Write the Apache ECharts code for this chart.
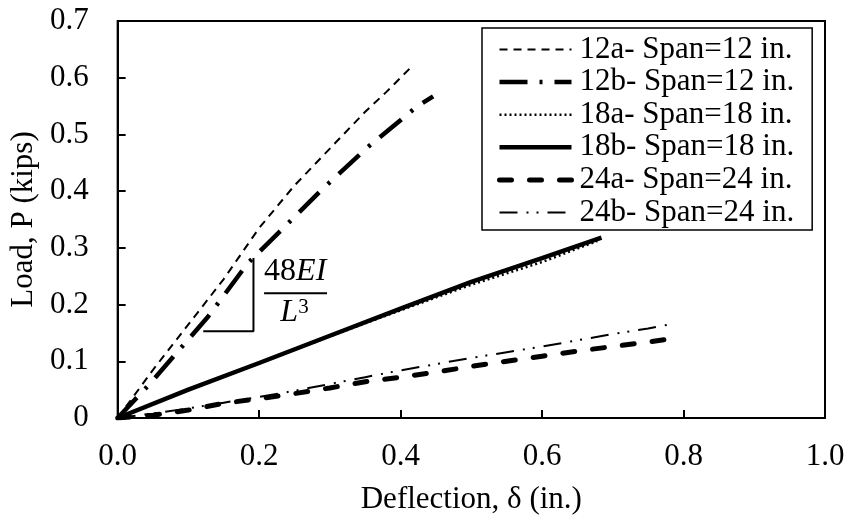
<!DOCTYPE html>
<html>
<head>
<meta charset="utf-8">
<script src="https://cdn.jsdelivr.net/npm/echarts@6/dist/echarts.min.js"></script>
<style>
  html, body { margin: 0; padding: 0; background: #fff; }
  #chart { width: 853px; height: 520px; }
</style>
</head>
<body>
<div id="chart"></div>
<script>
// Load–deflection readings per specimen: deflection (in.) and load (kips)
const defl12a = [0, 0.05, 0.10, 0.15, 0.20, 0.25, 0.30, 0.35, 0.38, 0.416];
const load12a = [0, 0.085, 0.165, 0.245, 0.335, 0.41, 0.475, 0.54, 0.575, 0.62];

const defl12b = [0, 0.046, 0.128, 0.184, 0.227, 0.288, 0.354, 0.424, 0.446];
const load12b = [0, 0.061, 0.179, 0.273, 0.326, 0.402, 0.478, 0.55, 0.567];

const defl18a = [0, 0.1, 0.2, 0.3, 0.4, 0.5, 0.6, 0.678];
const load18a = [0, 0.05, 0.097, 0.144, 0.19, 0.235, 0.275, 0.312];

const defl18b = [0, 0.1, 0.2, 0.3, 0.4, 0.5, 0.6, 0.684];
const load18b = [0, 0.05, 0.097, 0.145, 0.193, 0.24, 0.282, 0.318];

const defl24a = [0, 0.05, 0.10, 0.15, 0.20, 0.25, 0.30, 0.35, 0.40, 0.45, 0.50, 0.55, 0.60, 0.65, 0.70, 0.75, 0.784];
const load24a = [0, 0.005, 0.014, 0.026, 0.034, 0.043, 0.053, 0.064, 0.072, 0.081, 0.091, 0.10, 0.109, 0.118, 0.126, 0.134, 0.14];

const defl24b = [0, 0.05, 0.10, 0.15, 0.20, 0.25, 0.30, 0.35, 0.40, 0.45, 0.50, 0.55, 0.60, 0.65, 0.70, 0.75, 0.785];
const load24b = [0, 0.008, 0.017, 0.027, 0.037, 0.048, 0.06, 0.072, 0.084, 0.095, 0.106, 0.116, 0.126, 0.137, 0.148, 0.158, 0.166];

const seriesNames = [
  '12a- Span=12 in.', '12b- Span=12 in.',
  '18a- Span=18 in.', '18b- Span=18 in.',
  '24a- Span=24 in.', '24b- Span=24 in.'
];

// Initial-stiffness triangle (48EI/L^3) in data units
const slopeRunX = [0.121, 0.192, 0.192];
const slopeRunY = [0.153, 0.153, 0.282];

const xTicks = [0, 0.2, 0.4, 0.6, 0.8, 1.0];
const yTicks = [0, 0.1, 0.2, 0.3, 0.4, 0.5, 0.6, 0.7];

const FONT = 'Liberation Serif';

// Stroke style of each specimen's curve
const strokes = [
  { width: 2,   type: [8, 6],               cap: 'butt' },
  { width: 4.5, type: [28, 12, 3, 12],      cap: 'butt' },
  { width: 2.5, type: [2, 3],               cap: 'butt' },
  { width: 4.5, type: 'solid',              cap: 'butt' },
  { width: 5,   type: [12, 18],             cap: 'round' },
  { width: 2,   type: [18, 9, 2, 8, 2, 9],  cap: 'butt' }
];

function pairs(xs, ys) { return xs.map((x, i) => [x, ys[i]]); }

function curve(idx, xs, ys) {
  const s = strokes[idx];
  return {
    name: seriesNames[idx],
    type: 'line',
    data: pairs(xs, ys),
    symbol: 'none',
    smooth: false,
    lineStyle: { color: '#000', width: s.width, type: s.type, cap: s.cap },
    itemStyle: { color: '#000' },
    z: 3
  };
}

const chart = echarts.init(document.getElementById('chart'), null, { renderer: 'canvas' });

const option = {
  animation: false,
  backgroundColor: '#fff',
  grid: {
    left: 116, right: 28, top: 21, bottom: 102,
    show: true, borderColor: '#000', borderWidth: 2, backgroundColor: 'transparent'
  },
  xAxis: {
    type: 'value',
    min: xTicks[0], max: xTicks[xTicks.length - 1], interval: 0.2,
    name: 'Deflection, δ (in.)',
    nameLocation: 'middle', nameGap: 66,
    nameTextStyle: { fontFamily: FONT, fontSize: 31, color: '#000' },
    axisLine: { show: true, lineStyle: { color: '#000', width: 2 } },
    axisTick: { show: true, inside: true, length: 8, lineStyle: { color: '#000', width: 2 } },
    axisLabel: {
      margin: 23, fontFamily: FONT, fontSize: 31, color: '#000',
      formatter: v => v.toFixed(1)
    },
    splitLine: { show: false }
  },
  yAxis: {
    type: 'value',
    min: yTicks[0], max: yTicks[yTicks.length - 1], interval: 0.1,
    name: 'Load, P (kips)',
    nameLocation: 'middle', nameGap: 75,
    nameTextStyle: { fontFamily: FONT, fontSize: 31, color: '#000' },
    axisLine: { show: true, lineStyle: { color: '#000', width: 2 } },
    axisTick: { show: true, inside: true, length: 8, lineStyle: { color: '#000', width: 2 } },
    axisLabel: {
      margin: 29, fontFamily: FONT, fontSize: 31, color: '#000',
      formatter: v => (v === 0 ? '0' : v.toFixed(1))
    },
    splitLine: { show: false }
  },
  legend: {
    orient: 'vertical',
    left: 482, top: 28,
    padding: [6, 18, 2, 15],
    itemWidth: 72, itemHeight: 14, itemGap: 1.6,
    borderColor: '#000', borderWidth: 1.5,
    backgroundColor: '#fff',
    itemStyle: { color: 'rgba(0,0,0,0)', borderWidth: 0, opacity: 0 },
    textStyle: { fontFamily: FONT, fontSize: 31, color: '#000', lineHeight: 30, padding: [0, 0, 0, 3] },
    data: seriesNames.map((n, i) => ({
      name: n,
      itemStyle: { color: 'rgba(0,0,0,0)', borderWidth: 0, opacity: 0 },
      lineStyle: { color: '#000', width: strokes[i].width, type: strokes[i].type, cap: strokes[i].cap }
    }))
  },
  series: [
    curve(0, defl12a, load12a),
    curve(1, defl12b, load12b),
    curve(2, defl18a, load18a),
    curve(3, defl18b, load18b),
    curve(4, defl24a, load24a),
    curve(5, defl24b, load24b),
    {
      name: 'slope',
      type: 'line',
      data: pairs(slopeRunX, slopeRunY),
      symbol: 'none',
      lineStyle: { color: '#000', width: 2, type: 'solid' },
      silent: true,
      z: 2
    }
  ]
};

chart.setOption(option);

// Stiffness label 48EI / L^3 placed beside the triangle
const top48 = chart.convertToPixel({ gridIndex: 0 }, [0.251, 0.258]);
const barL = chart.convertToPixel({ gridIndex: 0 }, [0.207, 0.22]);
const barR = chart.convertToPixel({ gridIndex: 0 }, [0.296, 0.22]);
const botL = chart.convertToPixel({ gridIndex: 0 }, [0.250, 0.185]);

chart.setOption({
  graphic: [
    {
      type: 'text',
      x: top48[0], y: top48[1],
      style: {
        text: '{n|48}{i|EI}',
        align: 'center', verticalAlign: 'middle',
        rich: {
          n: { fontFamily: FONT, fontSize: 32, fill: '#000' },
          i: { fontFamily: FONT, fontSize: 32, fontStyle: 'italic', fill: '#000' }
        }
      },
      z: 10
    },
    {
      type: 'line',
      shape: { x1: barL[0], y1: barL[1], x2: barR[0], y2: barR[1] },
      style: { stroke: '#000', lineWidth: 2 },
      z: 10
    },
    {
      type: 'text',
      x: botL[0], y: botL[1],
      style: {
        text: '{i|L}{s|3}',
        align: 'center', verticalAlign: 'middle',
        rich: {
          i: { fontFamily: FONT, fontSize: 32, fontStyle: 'italic', fill: '#000' },
          s: { fontFamily: FONT, fontSize: 21, fill: '#000', verticalAlign: 'top', padding: [0, 0, 12, 0] }
        }
      },
      z: 10
    }
  ]
});
</script>
</body>
</html>
